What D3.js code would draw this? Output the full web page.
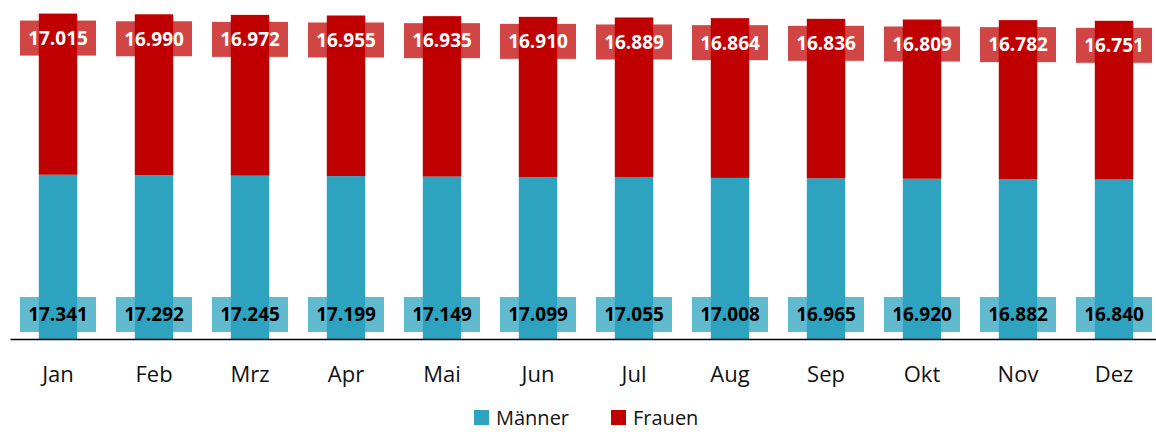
<!DOCTYPE html>
<html>
<head>
<meta charset="utf-8">
<script src="https://cdn.jsdelivr.net/npm/d3@7"></script>
<style>
  body { margin: 0; background: #fff; }
  svg { display: block; font-family: "Open Sans", sans-serif; }
</style>
</head>
<body>
<div id="chart"></div>
<script>
const months = ["Jan", "Feb", "Mrz", "Apr", "Mai", "Jun", "Jul", "Aug", "Sep", "Okt", "Nov", "Dez"];
const maenner = [17341, 17292, 17245, 17199, 17149, 17099, 17055, 17008, 16965, 16920, 16882, 16840];
const frauen = [17015, 16990, 16972, 16955, 16935, 16910, 16889, 16864, 16836, 16809, 16782, 16751];
const seriesNames = ["Männer", "Frauen"];

const W = 1156, H = 432;
const teal = "#2ea3bf", red = "#c00000";

const de = d3.formatLocale({ decimal: ",", thousands: ".", grouping: [3], currency: ["", " €"] });
const fmt = de.format(",d");

let svg = d3.select("#chart")
  .append("svg")
  .attr("width", W)
  .attr("height", H);

let x = d3.scaleBand()
  .domain(months)
  .range([10, 1162])
  .paddingInner(0.6)
  .paddingOuter(0.3);

let y = d3.scaleLinear()
  .domain([0, 36000])
  .range([339, -2]);

let rows = months.map((m, i) => ({ month: m, Männer: maenner[i], Frauen: frauen[i] }));
let stacked = d3.stack().keys(seriesNames)(rows);
let color = d3.scaleOrdinal().domain(seriesNames).range([teal, red]);

// bars
svg.append("g")
  .selectAll("g")
  .data(stacked)
  .join("g")
  .attr("fill", d => color(d.key))
  .selectAll("rect")
  .data(d => d)
  .join("rect")
  .attr("x", d => x(d.data.month))
  .attr("y", d => y(d[1]))
  .attr("width", x.bandwidth())
  .attr("height", d => y(d[0]) - y(d[1]));

// labels
const boxW = 76, boxH = 35;

let mLab = svg.append("g")
  .selectAll("g")
  .data(stacked[0])
  .join("g")
  .attr("transform", d => `translate(${x(d.data.month) + x.bandwidth() / 2},${y(0) - 24.5})`);

mLab.append("rect")
  .attr("x", -boxW / 2)
  .attr("y", -boxH / 2)
  .attr("width", boxW)
  .attr("height", boxH)
  .attr("fill", teal)
  .attr("fill-opacity", 0.75);

mLab.append("text")
  .attr("text-anchor", "middle")
  .attr("dy", "0.36em")
  .attr("font-size", 19)
  .attr("font-weight", 700)
  .attr("fill", "#000")
  .text(d => fmt(d.data.Männer));

let fLab = svg.append("g")
  .selectAll("g")
  .data(stacked[1])
  .join("g")
  .attr("transform", d => `translate(${x(d.data.month) + x.bandwidth() / 2},${y(d[1]) + 24.5})`);

fLab.append("rect")
  .attr("x", -boxW / 2)
  .attr("y", -boxH / 2)
  .attr("width", boxW)
  .attr("height", boxH)
  .attr("fill", red)
  .attr("fill-opacity", 0.73);

fLab.append("text")
  .attr("text-anchor", "middle")
  .attr("dy", "0.36em")
  .attr("font-size", 19)
  .attr("font-weight", 700)
  .attr("fill", "#fff")
  .text(d => fmt(d.data.Frauen));

// x axis
let xAxis = svg.append("g")
  .attr("transform", `translate(0,${y(0)})`)
  .call(d3.axisBottom(x).tickSize(0).tickSizeOuter(0).tickPadding(27));

xAxis.select(".domain")
  .attr("stroke", "#000")
  .attr("stroke-width", 1.5);

xAxis.selectAll("text")
  .attr("font-family", "Open Sans, sans-serif")
  .attr("font-size", 22)
  .attr("fill", "#111");

// legend
let legendX = [474, 611];
let legend = svg.append("g")
  .selectAll("g")
  .data(seriesNames)
  .join("g")
  .attr("transform", (d, i) => `translate(${legendX[i]},410)`);

legend.append("rect")
  .attr("width", 15)
  .attr("height", 15)
  .attr("fill", d => color(d));

legend.append("text")
  .attr("x", 22)
  .attr("y", 15)
  .attr("font-size", 20)
  .attr("fill", "#111")
  .text(d => d);
</script>
</body>
</html>
